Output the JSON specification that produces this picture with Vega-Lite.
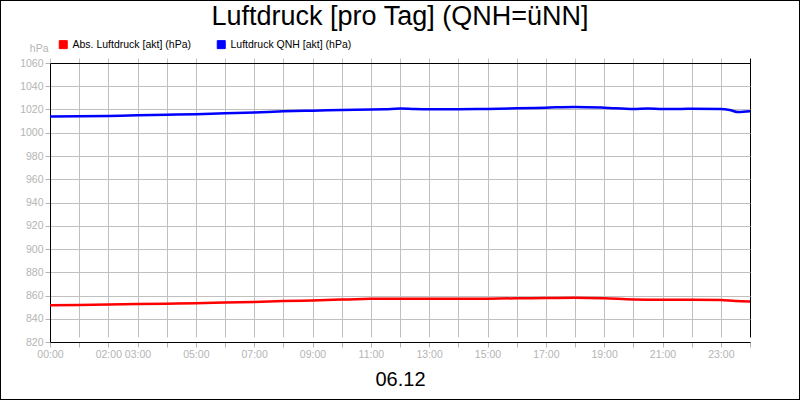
{
  "$schema": "https://vega.github.io/schema/vega-lite/v6.json",
  "width": 800,
  "height": 400,
  "autosize": "none",
  "padding": 0,
  "background": "white",
  "title": {
    "text": "Luftdruck [pro Tag] (QNH=üNN]",
    "anchor": "middle",
    "font": "Liberation Sans",
    "fontSize": 27,
    "fontWeight": "normal",
    "color": "black",
    "offset": -31
  },
  "datasets": {
    "luft": [
      {"h": 0, "s": "Abs. Luftdruck [akt] (hPa)", "v": 851.7},
      {"h": 1, "s": "Abs. Luftdruck [akt] (hPa)", "v": 851.9},
      {"h": 2, "s": "Abs. Luftdruck [akt] (hPa)", "v": 852.2},
      {"h": 3, "s": "Abs. Luftdruck [akt] (hPa)", "v": 852.6},
      {"h": 4, "s": "Abs. Luftdruck [akt] (hPa)", "v": 853.0},
      {"h": 5, "s": "Abs. Luftdruck [akt] (hPa)", "v": 853.4},
      {"h": 6, "s": "Abs. Luftdruck [akt] (hPa)", "v": 853.9},
      {"h": 7, "s": "Abs. Luftdruck [akt] (hPa)", "v": 854.5},
      {"h": 8, "s": "Abs. Luftdruck [akt] (hPa)", "v": 855.2},
      {"h": 9, "s": "Abs. Luftdruck [akt] (hPa)", "v": 855.8},
      {"h": 10, "s": "Abs. Luftdruck [akt] (hPa)", "v": 856.5},
      {"h": 11, "s": "Abs. Luftdruck [akt] (hPa)", "v": 857.1},
      {"h": 12, "s": "Abs. Luftdruck [akt] (hPa)", "v": 857.3},
      {"h": 13, "s": "Abs. Luftdruck [akt] (hPa)", "v": 857.1},
      {"h": 14, "s": "Abs. Luftdruck [akt] (hPa)", "v": 857.2},
      {"h": 15, "s": "Abs. Luftdruck [akt] (hPa)", "v": 857.3},
      {"h": 16, "s": "Abs. Luftdruck [akt] (hPa)", "v": 857.6},
      {"h": 17, "s": "Abs. Luftdruck [akt] (hPa)", "v": 857.8},
      {"h": 18, "s": "Abs. Luftdruck [akt] (hPa)", "v": 858.1},
      {"h": 19, "s": "Abs. Luftdruck [akt] (hPa)", "v": 857.6},
      {"h": 20, "s": "Abs. Luftdruck [akt] (hPa)", "v": 856.6},
      {"h": 21, "s": "Abs. Luftdruck [akt] (hPa)", "v": 856.3},
      {"h": 22, "s": "Abs. Luftdruck [akt] (hPa)", "v": 856.4},
      {"h": 23, "s": "Abs. Luftdruck [akt] (hPa)", "v": 856.1},
      {"h": 23.5, "s": "Abs. Luftdruck [akt] (hPa)", "v": 855.2},
      {"h": 24, "s": "Abs. Luftdruck [akt] (hPa)", "v": 854.9},
      {"h": 0, "s": "Luftdruck QNH [akt] (hPa)", "v": 1014.0},
      {"h": 1, "s": "Luftdruck QNH [akt] (hPa)", "v": 1014.2},
      {"h": 2, "s": "Luftdruck QNH [akt] (hPa)", "v": 1014.5},
      {"h": 3, "s": "Luftdruck QNH [akt] (hPa)", "v": 1015.0},
      {"h": 4, "s": "Luftdruck QNH [akt] (hPa)", "v": 1015.5},
      {"h": 5, "s": "Luftdruck QNH [akt] (hPa)", "v": 1016.0},
      {"h": 6, "s": "Luftdruck QNH [akt] (hPa)", "v": 1016.8},
      {"h": 7, "s": "Luftdruck QNH [akt] (hPa)", "v": 1017.5},
      {"h": 8, "s": "Luftdruck QNH [akt] (hPa)", "v": 1018.4},
      {"h": 9, "s": "Luftdruck QNH [akt] (hPa)", "v": 1019.0},
      {"h": 10, "s": "Luftdruck QNH [akt] (hPa)", "v": 1019.6},
      {"h": 11, "s": "Luftdruck QNH [akt] (hPa)", "v": 1020.0},
      {"h": 11.5, "s": "Luftdruck QNH [akt] (hPa)", "v": 1020.3},
      {"h": 12, "s": "Luftdruck QNH [akt] (hPa)", "v": 1020.8},
      {"h": 12.5, "s": "Luftdruck QNH [akt] (hPa)", "v": 1020.4},
      {"h": 13, "s": "Luftdruck QNH [akt] (hPa)", "v": 1020.2},
      {"h": 14, "s": "Luftdruck QNH [akt] (hPa)", "v": 1020.3},
      {"h": 15, "s": "Luftdruck QNH [akt] (hPa)", "v": 1020.5},
      {"h": 16, "s": "Luftdruck QNH [akt] (hPa)", "v": 1021.0},
      {"h": 17, "s": "Luftdruck QNH [akt] (hPa)", "v": 1021.6},
      {"h": 18, "s": "Luftdruck QNH [akt] (hPa)", "v": 1022.2},
      {"h": 19, "s": "Luftdruck QNH [akt] (hPa)", "v": 1021.6},
      {"h": 20, "s": "Luftdruck QNH [akt] (hPa)", "v": 1020.5},
      {"h": 20.5, "s": "Luftdruck QNH [akt] (hPa)", "v": 1020.8},
      {"h": 21, "s": "Luftdruck QNH [akt] (hPa)", "v": 1020.4},
      {"h": 22, "s": "Luftdruck QNH [akt] (hPa)", "v": 1020.6},
      {"h": 23, "s": "Luftdruck QNH [akt] (hPa)", "v": 1020.4},
      {"h": 23.3, "s": "Luftdruck QNH [akt] (hPa)", "v": 1019.6},
      {"h": 23.6, "s": "Luftdruck QNH [akt] (hPa)", "v": 1017.8},
      {"h": 24, "s": "Luftdruck QNH [akt] (hPa)", "v": 1018.5}
    ]
  },
  "data": {"name": "luft"},
  "mark": {"type": "line", "strokeWidth": 2.5, "interpolate": "monotone"},
  "encoding": {
    "x": {
      "field": "h",
      "type": "quantitative",
      "scale": {"domain": [0, 24], "range": [50, 750], "nice": false, "zero": false},
      "axis": {
        "values": [0, 1, 2, 3, 4, 5, 6, 7, 8, 9, 10, 11, 12, 13, 14, 15, 16, 17, 18, 19, 20, 21, 22, 23, 24],
        "labelExpr": "indexof([0, 2, 3, 5, 7, 9, 11, 13, 15, 17, 19, 21, 23], datum.value) >= 0 ? (datum.value < 10 ? '0' : '') + datum.value + ':00' : ''",
        "offset": -58,
        "title": "06.12",
        "titleFontSize": 20,
        "titleFontWeight": "normal",
        "titleColor": "black",
        "titlePadding": 10,
        "gridColor": {"condition": {"test": "datum.value == 24", "value": "black"}, "value": "#c0c0c0"},
        "labelOverlap": false,
        "labelFlush": false
      }
    },
    "y": {
      "field": "v",
      "type": "quantitative",
      "scale": {"domain": [820, 1060], "range": [342, 63], "nice": false, "zero": false},
      "axis": {
        "values": [820, 840, 860, 880, 900, 920, 940, 960, 980, 1000, 1020, 1040, 1060],
        "format": "d",
        "offset": -50,
        "title": "hPa",
        "titleAngle": 0,
        "titleAlign": "right",
        "titleBaseline": "middle",
        "titleX": -2,
        "titleY": 48,
        "titleFontSize": 10.5,
        "titleFontWeight": "normal",
        "titleColor": "#b4b4b4",
        "gridColor": {"condition": {"test": "datum.value == 1060", "value": "black"}, "value": "#c0c0c0"},
        "labelOverlap": false,
        "labelFlush": false
      }
    },
    "color": {
      "field": "s",
      "type": "nominal",
      "scale": {"domain": ["Abs. Luftdruck [akt] (hPa)", "Luftdruck QNH [akt] (hPa)"], "range": ["#ff0000", "#0000ff"]},
      "legend": {
        "title": null,
        "orient": "none",
        "legendX": 58,
        "legendY": 39,
        "direction": "horizontal",
        "padding": 0,
        "symbolType": "square",
        "symbolSize": 64,
        "symbolStrokeWidth": 1,
        "labelFontSize": 10.5,
        "labelColor": "black",
        "labelOffset": 4,
        "columnPadding": 24,
        "encode": {
          "symbols": {
            "update": {
              "fill": {"scale": "color", "field": "value"},
              "fillOpacity": {"value": 1},
              "stroke": {"value": "#222222"}
            }
          }
        }
      }
    }
  },
  "config": {
    "font": "Liberation Sans",
    "view": {"stroke": "black", "strokeWidth": 2},
    "axis": {
      "domainColor": "black",
      "domainWidth": 1,
      "tickColor": "#b4b4b4",
      "tickSize": 5,
      "labelColor": "#b4b4b4",
      "labelFontSize": 10.5,
      "labelPadding": 2,
      "grid": true,
      "gridWidth": 1,
      "gridOpacity": 1
    }
  }
}
